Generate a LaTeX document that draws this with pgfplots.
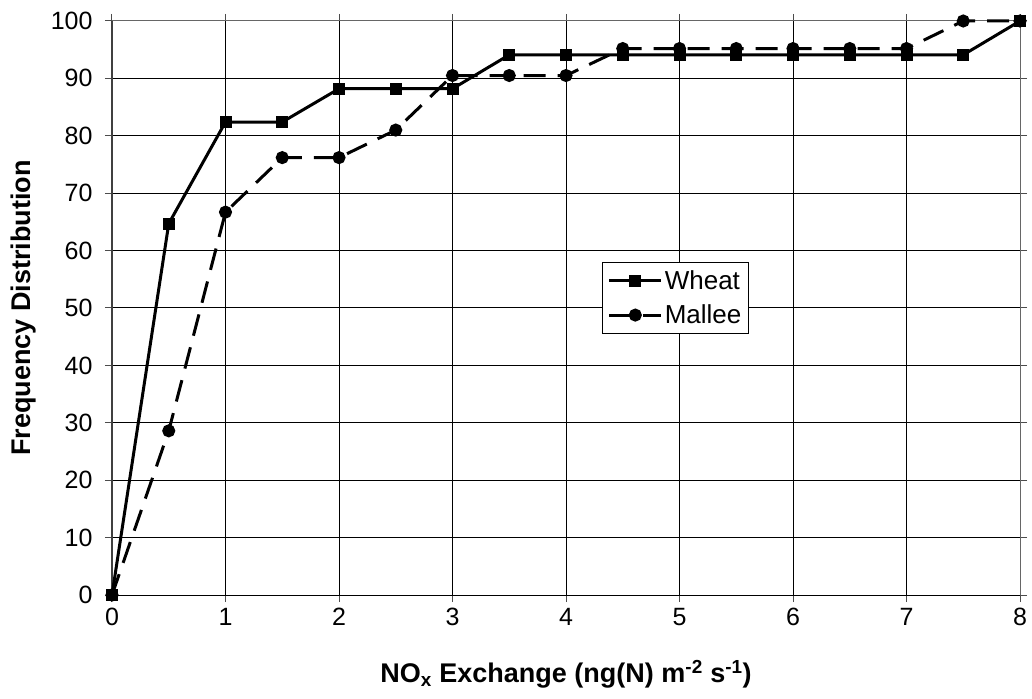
\documentclass[border=0pt]{standalone}
\usepackage{fontspec}
\setmainfont{Liberation Sans}
\usepackage{pgfplots}
\pgfplotsset{compat=1.18}

\begin{document}
\begin{tikzpicture}[x=1pt,y=1pt]
\path[use as bounding box] (-112,-103) rectangle (920,595);
\begin{axis}[
  at={(0,0)},anchor=south west,
  scale only axis,width=908pt,height=574pt,
  xmin=0,xmax=8,ymin=0,ymax=100,
  xtick={0,...,8},ytick={0,10,...,100},
  grid=major,major grid style={black,line width=1pt},
  axis line style={draw=none},
  tick align=outside,major tick length=7pt,
  tick style={black!70,line width=1pt},
  tick label style={font=\fontsize{25}{28}\selectfont},
  /pgf/number format/assume math mode=true,
  xticklabel style={yshift=-3pt},
  yticklabel style={xshift=-9pt},
  xlabel={\bfseries NO\textsubscript{x} Exchange (ng(N) m\textsuperscript{-2} s\textsuperscript{-1})},
  ylabel={\bfseries Frequency Distribution},
  label style={font=\fontsize{27}{30}\selectfont},
  xlabel style={yshift=-27pt},
  ylabel style={yshift=8pt},
  legend style={at={(0.54,0.58)},anchor=north west,draw=black,line width=1pt,
    font=\fontsize{26}{30}\selectfont,inner xsep=5pt,inner ysep=6pt,row sep=10pt},
  legend cell align=left,
  legend image code/.code={
    \draw[#1] (0pt,0pt) -- (52pt,0pt);
    \draw[#1,solid] plot coordinates {(26pt,0pt)};},
  clip=false,
]
\draw[black!60,line width=1pt] (rel axis cs:0,1) -- (rel axis cs:1,1) -- (rel axis cs:1,0);
\draw[black!75,line width=2pt] (rel axis cs:0,0) -- (rel axis cs:0,1);
\draw[black,line width=1pt] (rel axis cs:0,0) -- (rel axis cs:1,0);
\addplot[black,line width=3pt,mark=square*,mark size=4.5pt,mark options={solid}] coordinates {
 (0,0) (0.5,64.7) (1,82.4) (1.5,82.4) (2,88.2) (2.5,88.2) (3,88.2) (3.5,94.1)
 (4,94.1) (4.5,94.1) (5,94.1) (5.5,94.1) (6,94.1) (6.5,94.1) (7,94.1) (7.5,94.1) (8,100)};
\addlegendentry{Wheat}
\addplot[black,line width=3pt,dash pattern=on 22pt off 12pt,mark=*,mark size=5pt,mark options={solid}] coordinates {
 (0,0) (0.5,28.6) (1,66.7) (1.5,76.2) (2,76.2) (2.5,81) (3,90.5) (3.5,90.5)
 (4,90.5) (4.5,95.2) (5,95.2) (5.5,95.2) (6,95.2) (6.5,95.2) (7,95.2) (7.5,100) (8,100)};
\addlegendentry{Mallee}
\end{axis}
\end{tikzpicture}
\end{document}
